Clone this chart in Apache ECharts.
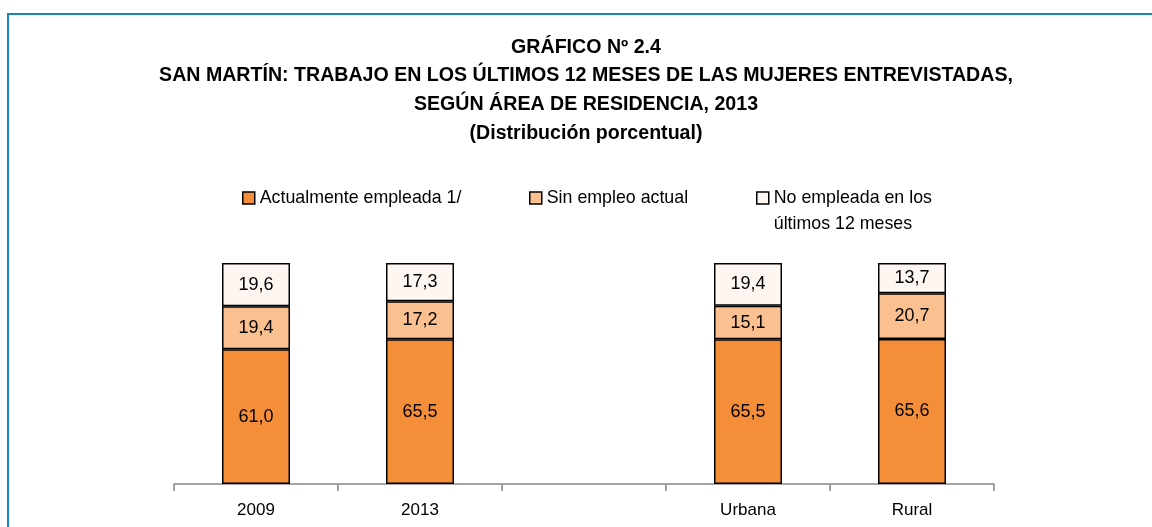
<!DOCTYPE html>
<html>
<head>
<meta charset="utf-8">
<script src="https://cdn.jsdelivr.net/npm/echarts@6/dist/echarts.min.js"></script>
<style>
html,body{margin:0;padding:0;background:#fff;}
#c{width:1152px;height:527px;}
</style>
</head>
<body>
<div id="c"></div>
<script>
const categories = ['2009', '2013', '', 'Urbana', 'Rural'];
const empleada = [61.0, 65.5, null, 65.5, 65.6];
const sinEmpleo = [19.4, 17.2, null, 15.1, 20.7];
const noEmpleada = [19.6, 17.3, null, 19.4, 13.7];
const seriesNames = ['Actualmente empleada 1/', 'Sin empleo actual', 'No empleada en los últimos 12 meses'];
const titleLines = ['GRÁFICO Nº 2.4', 'SAN MARTÍN: TRABAJO EN LOS ÚLTIMOS 12 MESES DE LAS MUJERES ENTREVISTADAS,', 'SEGÚN ÁREA DE RESIDENCIA, 2013', '(Distribución porcentual)'];

const FONT = '"Liberation Sans Narrow", "Arial Narrow", "Liberation Sans", Arial, sans-serif';
const colors = ['#F58E38', '#FAC08F', '#FEF6F0'];

const chart = echarts.init(document.getElementById('c'), null, {renderer: 'canvas'});

function fmt(v) { return v.toFixed(1).replace('.', ','); }

function mkSeries(name, data, color) {
  return {
    name: name,
    type: 'bar',
    stack: 'total',
    data: data,
    barWidth: 68,
    itemStyle: {color: color, borderColor: '#000', borderWidth: 1.5},
    label: {
      show: true,
      position: 'inside',
      color: '#000',
      fontFamily: FONT,
      fontSize: 18,
      formatter: p => fmt(p.value)
    },
    emphasis: {disabled: true}
  };
}

const legendBase = {
  itemWidth: 12, itemHeight: 12, itemGap: 3, selectedMode: false,
  icon: 'rect', padding: 0,
  itemStyle: {borderColor: '#000', borderWidth: 1.5},
  textStyle: {fontFamily: FONT, fontSize: 17.8, color: '#000', lineHeight: 26}
};

chart.setOption({
  animation: false,
  backgroundColor: '#fff',
  title: {
    text: titleLines.join('\n'),
    left: 586,
    textAlign: 'center',
    top: 33,
    padding: 0,
    textStyle: {fontFamily: FONT, fontWeight: 'bold', fontSize: 19.6, lineHeight: 28.7, color: '#000'}
  },
  graphic: [{
    type: 'rect',
    shape: {x: 8, y: 14, width: 1200, height: 600},
    style: {fill: 'none', stroke: '#1A88BF', lineWidth: 2},
    silent: true,
    z: -1
  }],
  legend: [
    Object.assign({}, legendBase, {data: [seriesNames[0]], left: 242, top: 185}),
    Object.assign({}, legendBase, {data: [seriesNames[1]], left: 529, top: 185}),
    Object.assign({}, legendBase, {data: [seriesNames[2]], left: 756, top: 159,
      formatter: () => '\nNo empleada en los\núltimos 12 meses'})
  ],
  grid: {left: 174, right: 158, top: 263, bottom: 43},
  xAxis: {
    type: 'category',
    data: categories,
    axisLine: {lineStyle: {color: '#888', width: 1.5}},
    axisTick: {show: true, alignWithLabel: false, length: 7, lineStyle: {color: '#888', width: 1.5}},
    axisLabel: {fontFamily: FONT, fontSize: 17, color: '#000', margin: 18}
  },
  yAxis: {
    type: 'value', min: 0, max: 100, show: false
  },
  series: [
    mkSeries(seriesNames[0], empleada, colors[0]),
    mkSeries(seriesNames[1], sinEmpleo, colors[1]),
    mkSeries(seriesNames[2], noEmpleada, colors[2])
  ]
});
</script>
</body>
</html>
